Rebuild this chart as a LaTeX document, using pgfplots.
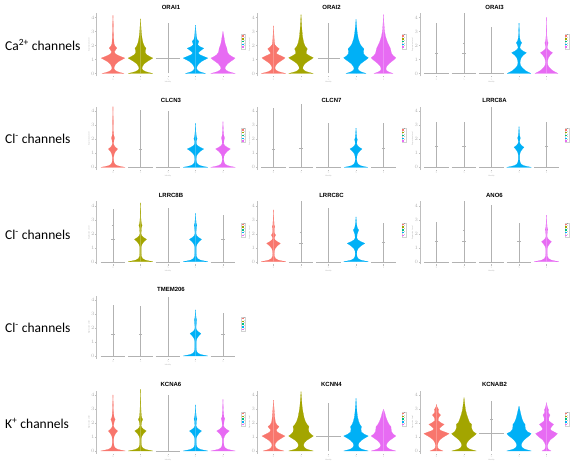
\documentclass[border=0pt]{standalone}
\usepackage{fontspec}
\setmainfont{Carlito}
\newfontfamily\tfont{Liberation Sans}
\usepackage{pgfplots}
\pgfplotsset{compat=1.18}
\definecolor{c1}{HTML}{F8766D}
\definecolor{c2}{HTML}{A3A500}
\definecolor{c3}{HTML}{00BF7D}
\definecolor{c4}{HTML}{00B0F6}
\definecolor{c5}{HTML}{E76BF3}
\pgfplotsset{
  legend image code/.code={\fill[#1,draw=none] (0pt,-0.7pt) rectangle (2.2pt,0.7pt);},
  thinln/.style={gray!60, line width=0.35pt, forget plot},
  vp/.style={
    x=27.5pt, y=14pt,
    xmin=0.4, xmax=5.6, ymin=-0.2, ymax=4.3,
    anchor=south west, clip=false,
    axis lines*=left,
    x axis line style={draw=none},
    y axis line style={draw=gray!50, line width=0.35pt},
    xtick={1,2,3,4,5}, xticklabels={0,1,2,3,4},
    ytick={0,1,2,3,4},
    tick align=outside, major tick length=1.2pt,
    every tick/.style={gray!50, line width=0.3pt},
    xticklabel style={font=\fontsize{2}{2}\selectfont, text=gray!60, rotate=45, anchor=north east, inner sep=0.5pt},
    yticklabel style={font=\fontsize{2}{2}\selectfont, text=gray!60, inner sep=0.5pt},
    xlabel={Identity}, ylabel={Expression Level},
    xlabel style={font=\fontsize{2}{2}\selectfont, text=gray!60, inner sep=0.5pt},
    ylabel style={font=\fontsize{2}{2}\selectfont, text=gray!60, inner sep=0.5pt},
    title style={font=\tfont\bfseries\fontsize{6}{7}\selectfont, xshift=3pt, yshift=-3.5pt, inner sep=1.5pt},
    legend style={at={(1.012,0.55)}, anchor=west, draw=gray!35, line width=0.2pt, fill=none, inner sep=0.3pt,
      font=\fontsize{1.4}{1.4}\selectfont, row sep=0.15pt,
      nodes={inner sep=0.1pt}},
    legend cell align=left,
  },
}
\newcommand{\vio}[3]{%
  \addplot[fill=#2, draw=#2, line width=0.15pt, line join=round, forget plot] table[x expr=#1+\thisrow{w}, y=y, row sep=\\]{y w\\ #3\\};
  \addplot[fill=#2, draw=#2, line width=0.15pt, line join=round, forget plot] table[x expr=#1-\thisrow{w}, y=y, row sep=\\]{y w\\ #3\\};}
\newcommand{\vl}[2]{\addplot[thinln] table[row sep=\\]{x y\\ #1 0\\ #1 #2\\};}
\newcommand{\hs}[3]{\addplot[thinln] table[x expr=#1+\thisrow{d}, y=y, row sep=\\]{d y\\ -#3 #2\\ #3 #2\\};}
\newcommand{\lgd}{%
  \addlegendimage{fill=c1}\addlegendentry{0}
  \addlegendimage{fill=c2}\addlegendentry{1}
  \addlegendimage{fill=c3}\addlegendentry{2}
  \addlegendimage{fill=c4}\addlegendentry{3}
  \addlegendimage{fill=c5}\addlegendentry{4}}
\begin{document}
\begin{tikzpicture}
\useasboundingbox (0,0) rectangle (579pt,468pt);
% row labels
\node[anchor=base west, font=\fontsize{13.5}{15}\selectfont, inner sep=0pt] at (5pt,417pt) {Ca\textsuperscript{2+} channels};
\node[anchor=base west, font=\fontsize{13.5}{15}\selectfont, inner sep=0pt] at (5pt,324.7pt) {Cl\textsuperscript{-} channels};
\node[anchor=base west, font=\fontsize{13.5}{15}\selectfont, inner sep=0pt] at (5pt,228.5pt) {Cl\textsuperscript{-} channels};
\node[anchor=base west, font=\fontsize{13.5}{15}\selectfont, inner sep=0pt] at (5pt,135pt) {Cl\textsuperscript{-} channels};
\node[anchor=base west, font=\fontsize{13.5}{15}\selectfont, inner sep=0pt] at (5pt,39.5pt) {K\textsuperscript{+} channels};

% ===== ORAI1 =====
\begin{axis}[vp, at={(96.5pt,391.7pt)}, title={ORAI1}]
\vio{1}{c1}{0 0\\0 .40\\.06 .28\\.14 .15\\.24 .07\\.36 .035\\.5 .05\\.68 .1\\.85 .2\\.98 .32\\1.1 .43\\1.2 .3\\1.3 .18\\1.42 .08\\1.55 .05\\1.68 .09\\1.82 .14\\1.95 .08\\2.1 .04\\2.5 .025\\3.0 .015\\3.5 .01\\4.15 0}
\vio{2}{c2}{0 0\\0 .45\\.06 .32\\.14 .18\\.24 .09\\.36 .05\\.5 .07\\.68 .13\\.85 .24\\.98 .35\\1.1 .45\\1.22 .33\\1.35 .22\\1.5 .17\\1.65 .18\\1.8 .2\\1.95 .14\\2.2 .09\\2.6 .05\\3.1 .025\\3.5 .012\\3.9 0}
\vl{3}{3.6}\hs{3}{1.1}{0.45}
\vio{4}{c4}{0 0\\0 .37\\.06 .26\\.14 .14\\.24 .07\\.38 .04\\.52 .06\\.7 .12\\.86 .22\\.98 .33\\1.1 .45\\1.22 .3\\1.35 .15\\1.47 .1\\1.62 .18\\1.8 .3\\1.92 .16\\2.05 .08\\2.18 .1\\2.3 .12\\2.42 .06\\2.7 .03\\3.1 .015\\3.45 0}
\vio{5}{c5}{0 0\\0 .45\\.06 .33\\.14 .2\\.24 .11\\.38 .07\\.52 .1\\.7 .17\\.86 .28\\.98 .37\\1.1 .44\\1.22 .32\\1.35 .22\\1.5 .17\\1.65 .15\\1.8 .14\\2.0 .1\\2.2 .07\\2.5 .045\\2.8 .02\\3.0 0}
\lgd
\end{axis}

% ===== ORAI2 =====
\begin{axis}[vp, at={(257pt,391.7pt)}, title={ORAI2}]
\vio{1}{c1}{0 0\\0 .45\\.06 .32\\.14 .18\\.24 .09\\.38 .05\\.52 .07\\.7 .13\\.86 .24\\1.0 .35\\1.12 .42\\1.24 .3\\1.36 .16\\1.45 .1\\1.6 .15\\1.76 .21\\1.9 .12\\2.05 .05\\2.3 .03\\2.8 .015\\3.4 0}
\vio{2}{c2}{0 0\\0 .45\\.06 .33\\.14 .19\\.24 .1\\.38 .06\\.52 .08\\.7 .14\\.86 .25\\1.0 .36\\1.12 .45\\1.24 .33\\1.4 .2\\1.55 .19\\1.76 .23\\1.95 .15\\2.2 .1\\2.6 .06\\3.2 .03\\3.7 .015\\4.2 0}
\vl{3}{3.6}\hs{3}{1.12}{0.4}
\vio{4}{c4}{0 0\\0 .37\\.06 .27\\.14 .16\\.24 .09\\.38 .07\\.52 .1\\.7 .17\\.86 .28\\1.0 .38\\1.12 .45\\1.26 .34\\1.4 .28\\1.58 .27\\1.76 .29\\1.95 .2\\2.1 .15\\2.5 .08\\3.0 .04\\3.4 .02\\3.86 0}
\vio{5}{c5}{0 0\\0 .35\\.06 .26\\.14 .16\\.24 .1\\.38 .09\\.52 .12\\.7 .2\\.86 .3\\1.0 .39\\1.12 .45\\1.26 .36\\1.4 .3\\1.6 .27\\1.8 .25\\2.0 .2\\2.2 .15\\2.6 .08\\3.0 .04\\3.5 .02\\4.2 0}
\lgd
\end{axis}

% ===== ORAI3 =====
\begin{axis}[vp, at={(420pt,391.7pt)}, title={ORAI3}]
\vl{1}{3.6}\hs{1}{0}{0.45}\hs{1}{1.48}{0.06}
\vl{2}{4.3}\hs{2}{0}{0.45}\hs{2}{1.48}{0.06}\hs{2}{2.2}{0.04}
\vl{3}{3.3}\hs{3}{0}{0.45}
\vio{4}{c4}{0 0\\0 .43\\.1 .33\\.2 .24\\.35 .15\\.5 .08\\.65 .045\\.8 .04\\.95 .05\\1.12 .08\\1.3 .15\\1.48 .27\\1.6 .15\\1.73 .06\\1.86 .03\\2.05 .06\\2.2 .1\\2.33 .05\\2.6 .02\\3.1 .01\\3.6 0}
\vio{5}{c5}{0 0\\0 .42\\.1 .32\\.2 .23\\.35 .14\\.5 .075\\.65 .04\\.8 .035\\.95 .045\\1.12 .07\\1.3 .13\\1.48 .22\\1.6 .13\\1.73 .05\\1.86 .025\\2.05 .045\\2.2 .06\\2.33 .03\\2.7 .015\\3.3 .008\\4.0 0}
\lgd
\end{axis}

% ===== CLCN3 =====
\begin{axis}[vp, at={(96.5pt,297.9pt)}, title={CLCN3}]
\vio{1}{c1}{0 0\\0 .44\\.05 .3\\.12 .15\\.22 .07\\.35 .035\\.55 .02\\.76 .025\\.95 .045\\1.13 .09\\1.31 .17\\1.43 .09\\1.56 .04\\1.69 .02\\1.95 .036\\2.1 .06\\2.25 .03\\2.6 .015\\3.3 .01\\4.33 0}
\vl{2}{4.1}\hs{2}{0}{0.45}\hs{2}{1.31}{0.06}
\vl{3}{4.05}\hs{3}{0}{0.45}
\vio{4}{c4}{0 0\\0 .45\\.05 .32\\.12 .17\\.22 .08\\.35 .04\\.55 .025\\.76 .03\\.95 .075\\1.13 .165\\1.31 .3\\1.43 .165\\1.56 .066\\1.69 .025\\1.9 .036\\2.05 .06\\2.2 .03\\2.55 .015\\3.14 0}
\vio{5}{c5}{0 0\\0 .45\\.05 .32\\.12 .17\\.22 .08\\.35 .04\\.55 .025\\.76 .03\\.95 .068\\1.13 .15\\1.31 .27\\1.43 .15\\1.56 .06\\1.69 .025\\1.95 .036\\2.1 .06\\2.25 .03\\2.6 .015\\3.26 0}
\lgd
\end{axis}

% ===== CLCN7 =====
\begin{axis}[vp, at={(257pt,297.9pt)}, title={CLCN7}]
\vl{1}{4.2}\hs{1}{0}{0.45}\hs{1}{1.31}{0.06}
\vl{2}{4.5}\hs{2}{0}{0.45}\hs{2}{1.36}{0.06}
\vl{3}{3.14}\hs{3}{0}{0.45}
\vio{4}{c4}{0 0\\0 .43\\.05 .3\\.12 .16\\.22 .08\\.35 .04\\.55 .025\\.76 .03\\.95 .055\\1.13 .12\\1.31 .22\\1.43 .12\\1.56 .05\\1.69 .025\\1.85 .035\\1.98 .05\\2.12 .025\\2.45 .012\\2.8 0}
\vl{5}{3.14}\hs{5}{0}{0.45}\hs{5}{1.36}{0.06}
\lgd
\end{axis}

% ===== LRRC8A =====
\begin{axis}[vp, at={(420pt,297.9pt)}, title={LRRC8A}]
\vl{1}{3.26}\hs{1}{0}{0.45}\hs{1}{1.48}{0.06}
\vl{2}{3.26}\hs{2}{0}{0.45}\hs{2}{1.48}{0.06}
\vl{3}{4.33}\hs{3}{0}{0.45}
\vio{4}{c4}{0 0\\0 .45\\.05 .32\\.12 .17\\.22 .08\\.35 .04\\.55 .025\\.88 .025\\1.07 .045\\1.25 .1\\1.43 .18\\1.55 .1\\1.68 .04\\1.81 .02\\1.95 .03\\2.1 .05\\2.25 .025\\2.55 .012\\2.9 0}
\vl{5}{3.26}\hs{5}{0}{0.45}\hs{5}{1.48}{0.06}
\lgd
\end{axis}

% ===== LRRC8B =====
\begin{axis}[vp, at={(96.5pt,203.5pt)}, title={LRRC8B}]
\vl{1}{3.74}\hs{1}{0}{0.45}\hs{1}{1.6}{0.06}\hs{1}{2.6}{0.04}
\vio{2}{c2}{0 0\\0 .45\\.05 .32\\.12 .17\\.22 .08\\.35 .04\\.55 .025\\1.05 .025\\1.24 .055\\1.42 .12\\1.6 .22\\1.72 .12\\1.85 .05\\1.98 .02\\2.45 .036\\2.6 .06\\2.75 .03\\3.1 .015\\3.6 .01\\4.2 0}
\vl{3}{3.8}\hs{3}{0}{0.45}
\vio{4}{c4}{0 0\\0 .45\\.05 .32\\.12 .17\\.22 .08\\.35 .04\\.55 .025\\1.05 .025\\1.24 .055\\1.42 .12\\1.6 .22\\1.72 .12\\1.85 .05\\1.98 .02\\2.45 .03\\2.6 .05\\2.75 .025\\3.05 .012\\3.45 0}
\vl{5}{3.33}\hs{5}{0}{0.45}\hs{5}{1.6}{0.06}
\lgd
\end{axis}

% ===== LRRC8C =====
\begin{axis}[vp, at={(257pt,203.5pt)}, title={LRRC8C}]
\vio{1}{c1}{0 0\\0 .45\\.05 .32\\.12 .17\\.22 .08\\.35 .04\\.55 .025\\.76 .03\\.95 .063\\1.13 .14\\1.31 .25\\1.43 .14\\1.56 .055\\1.69 .03\\1.8 .05\\1.9 .08\\2.02 .04\\2.2 .025\\2.4 .035\\2.5 .05\\2.62 .025\\3.0 .012\\3.7 0}
\vl{2}{4.3}\hs{2}{0}{0.45}\hs{2}{1.31}{0.06}\hs{2}{2.14}{0.04}
\vl{3}{3.8}\hs{3}{0}{0.45}
\vio{4}{c4}{0 0\\0 .45\\.05 .32\\.12 .17\\.22 .08\\.35 .04\\.55 .025\\.76 .035\\.95 .08\\1.13 .18\\1.31 .32\\1.43 .18\\1.56 .07\\1.69 .03\\1.95 .04\\2.12 .07\\2.26 .1\\2.4 .05\\2.7 .02\\3.2 0}
\vl{5}{2.74}\hs{5}{0}{0.45}\hs{5}{1.36}{0.06}
\lgd
\end{axis}

% ===== ANO6 =====
\begin{axis}[vp, at={(420pt,203.5pt)}, title={ANO6}]
\vl{1}{2.86}\hs{1}{0}{0.45}\hs{1}{1.43}{0.06}
\vl{2}{4.3}\hs{2}{0}{0.45}\hs{2}{1.43}{0.06}\hs{2}{2.26}{0.04}
\vl{3}{4.05}\hs{3}{0}{0.45}
\vl{4}{2.79}\hs{4}{0}{0.45}\hs{4}{1.43}{0.06}
\vio{5}{c5}{0 0\\0 .45\\.05 .32\\.12 .17\\.22 .08\\.35 .04\\.55 .025\\.88 .025\\1.07 .045\\1.25 .1\\1.43 .18\\1.55 .1\\1.68 .04\\1.81 .02\\2.15 .03\\2.3 .05\\2.45 .025\\2.8 .012\\3.33 0}
\lgd
\end{axis}

% ===== TMEM206 =====
\begin{axis}[vp, at={(96.5pt,109.2pt)}, title={TMEM206}]
\vl{1}{3.64}\hs{1}{0}{0.45}\hs{1}{1.57}{0.06}
\vl{2}{3.57}\hs{2}{0}{0.45}\hs{2}{1.57}{0.06}
\vl{3}{4.24}\hs{3}{0}{0.45}
\vio{4}{c4}{0 0\\0 .45\\.05 .32\\.12 .17\\.22 .08\\.35 .04\\.55 .025\\1.05 .025\\1.24 .05\\1.42 .11\\1.6 .2\\1.72 .11\\1.85 .045\\1.98 .02\\2.42 .03\\2.57 .045\\2.72 .022\\3.0 .01\\3.29 0}
\vl{5}{3.05}\hs{5}{0}{0.45}\hs{5}{1.57}{0.06}
\lgd
\end{axis}

% ===== KCNA6 =====
\begin{axis}[vp, at={(96.5pt,14.2pt)}, title={KCNA6}]
\vio{1}{c1}{0 0\\0 .45\\.05 .32\\.12 .17\\.22 .08\\.35 .04\\.55 .025\\.88 .025\\1.07 .043\\1.25 .095\\1.43 .17\\1.55 .095\\1.68 .04\\1.81 .02\\2.1 .045\\2.26 .08\\2.4 .04\\2.7 .02\\3.3 .01\\4.0 0}
\vio{2}{c2}{0 0\\0 .45\\.05 .32\\.12 .17\\.22 .08\\.35 .04\\.55 .025\\.88 .025\\1.07 .053\\1.25 .115\\1.43 .21\\1.55 .115\\1.68 .046\\1.81 .022\\2.1 .045\\2.26 .08\\2.4 .04\\2.8 .02\\3.5 .01\\4.4 0}
\vl{3}{4.0}\hs{3}{0}{0.45}
\vio{4}{c4}{0 0\\0 .45\\.05 .32\\.12 .17\\.22 .08\\.35 .04\\.55 .025\\.88 .025\\1.07 .055\\1.25 .12\\1.43 .22\\1.55 .12\\1.68 .048\\1.81 .022\\2.15 .035\\2.3 .055\\2.45 .028\\2.8 .012\\3.29 0}
\vio{5}{c5}{0 0\\0 .45\\.05 .32\\.12 .17\\.22 .08\\.35 .04\\.55 .025\\.88 .025\\1.07 .058\\1.25 .125\\1.43 .23\\1.55 .125\\1.68 .05\\1.81 .023\\2.15 .04\\2.3 .065\\2.45 .032\\2.9 .014\\3.69 0}
\lgd
\end{axis}

% ===== KCNN4 =====
\begin{axis}[vp, at={(257pt,14.2pt)}, title={KCNN4}]
\vio{1}{c1}{0 0\\0 .38\\.06 .27\\.14 .15\\.26 .08\\.42 .05\\.58 .08\\.75 .16\\.9 .28\\1.07 .42\\1.2 .28\\1.35 .14\\1.5 .1\\1.62 .15\\1.74 .2\\1.88 .12\\2.05 .07\\2.4 .045\\2.8 .03\\3.2 .015\\3.64 0}
\vio{2}{c2}{0 0\\0 .45\\.06 .33\\.14 .2\\.26 .12\\.42 .09\\.58 .12\\.75 .2\\.9 .32\\1.07 .45\\1.2 .36\\1.35 .29\\1.55 .27\\1.74 .29\\1.9 .22\\2.1 .16\\2.4 .11\\2.8 .07\\3.2 .04\\3.7 .02\\4.24 0}
\vl{3}{3.4}\hs{3}{1.07}{0.45}
\vio{4}{c4}{0 0\\0 .45\\.06 .33\\.14 .2\\.26 .11\\.42 .08\\.58 .11\\.75 .19\\.9 .3\\1.07 .45\\1.2 .3\\1.35 .2\\1.55 .18\\1.74 .2\\1.9 .14\\2.1 .1\\2.4 .06\\2.8 .035\\3.3 .015\\3.76 0}
\vio{5}{c5}{0 0\\0 .45\\.06 .34\\.14 .22\\.26 .13\\.42 .1\\.58 .14\\.75 .22\\.9 .33\\1.07 .45\\1.2 .36\\1.35 .3\\1.55 .28\\1.74 .27\\1.9 .2\\2.1 .15\\2.4 .09\\2.7 .05\\2.98 0}
\lgd
\end{axis}

% ===== KCNAB2 =====
\begin{axis}[vp, at={(420pt,14.2pt)}, title={KCNAB2}]
\vio{1}{c1}{0 0\\0 .24\\.06 .16\\.14 .08\\.26 .04\\.42 .035\\.6 .06\\.8 .12\\.98 .24\\1.12 .36\\1.24 .46\\1.36 .3\\1.48 .14\\1.6 .1\\1.75 .18\\1.9 .28\\2.02 .16\\2.15 .07\\2.3 .06\\2.45 .1\\2.57 .15\\2.7 .08\\2.85 .06\\2.95 .08\\3.05 .05\\3.15 .02\\3.33 0}
\vio{2}{c2}{0 0\\0 .45\\.06 .33\\.14 .2\\.26 .11\\.42 .08\\.6 .11\\.8 .19\\.98 .3\\1.12 .39\\1.24 .45\\1.36 .35\\1.5 .3\\1.7 .27\\1.9 .28\\2.05 .2\\2.3 .15\\2.6 .1\\2.9 .06\\3.3 .03\\3.81 0}
\vl{3}{3.57}\hs{3}{1.24}{0.45}\hs{3}{2.26}{0.04}
\vio{4}{c4}{0 0\\0 .45\\.06 .33\\.14 .2\\.26 .11\\.42 .08\\.6 .11\\.8 .19\\.98 .3\\1.12 .39\\1.24 .44\\1.38 .3\\1.55 .24\\1.75 .22\\1.9 .22\\2.05 .16\\2.3 .11\\2.6 .07\\2.9 .035\\3.21 0}
\vio{5}{c5}{0 0\\0 .17\\.06 .11\\.14 .06\\.26 .04\\.42 .04\\.6 .07\\.8 .14\\.98 .26\\1.12 .34\\1.24 .4\\1.36 .28\\1.48 .17\\1.58 .14\\1.72 .18\\1.9 .26\\2.02 .17\\2.15 .09\\2.3 .08\\2.45 .1\\2.57 .13\\2.7 .08\\2.82 .06\\2.92 .08\\3.05 .05\\3.2 .025\\3.45 0}
\lgd
\end{axis}
\end{tikzpicture}
\end{document}
